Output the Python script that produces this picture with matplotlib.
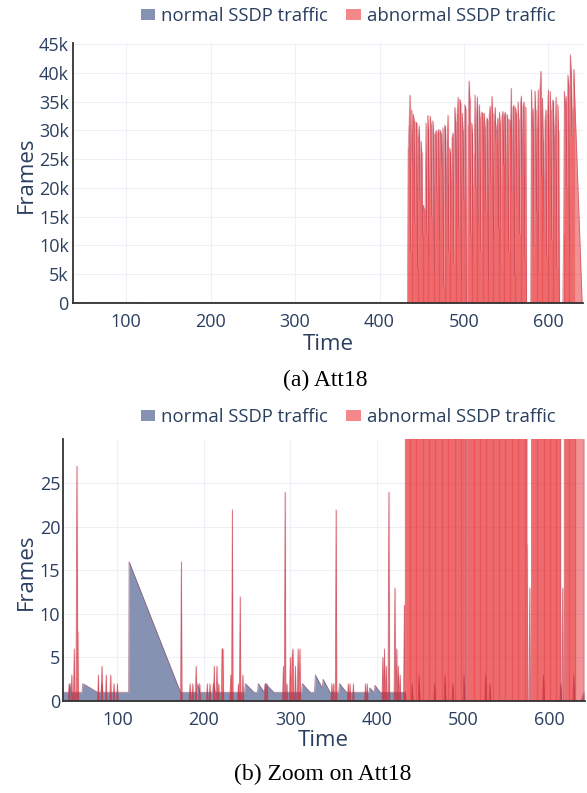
import matplotlib.pyplot as plt
from matplotlib.patches import Patch
from matplotlib.ticker import FuncFormatter

# normal SSDP traffic, knots of the area (time, frames)
normal_time = [37, 44, 45, 46, 59, 60, 77, 81, 82, 83,
               113, 113.5, 173, 192, 193, 195, 210, 211, 213, 247,
               248, 258, 262, 263, 270, 271, 281, 313, 314, 323,
               328, 329, 337, 338, 346, 356, 357, 365, 391, 392,
               397, 398, 404, 433, 434, 440, 441, 442, 448, 449,
               450, 466, 467, 468, 478, 479, 480, 487, 488, 489,
               500, 501, 502, 525, 526, 527, 530, 531, 532, 592,
               593, 594, 612, 613, 614, 627, 628, 629, 636, 640]
normal_frames = [1, 1, 2, 1, 1, 2, 1, 1, 2, 1,
                 1, 16, 1, 1, 2, 1, 1, 2, 1, 1,
                 2, 1, 1, 2, 1, 2, 1, 1, 2, 1,
                 1, 3, 1.5, 2.5, 1, 1, 2, 1, 1, 1.5,
                 1, 1.8, 1, 1, 0, 0, 2, 0, 0, 3,
                 0, 0, 2, 0, 0, 3, 0, 0, 2, 0,
                 0, 3, 0, 0, 3, 0, 0, 2, 0, 0,
                 3, 0, 0, 2, 0, 0, 3, 0, 0, 1]

# abnormal frames before the attack (one per second, 0 elsewhere)
first_second = 37
spike_time = [44, 47, 50, 53, 54, 78, 82, 87, 92, 96, 100,
              174, 184, 187, 191, 195, 204, 207, 212, 215, 217, 221, 222,
              231, 233, 240, 242, 245, 271, 273, 292, 294, 296,
              300, 302, 303, 306, 309, 311, 348, 350, 353, 367, 369, 373,
              387, 389, 407, 409, 411, 414, 421, 423, 425, 427, 432]
spike_frames = [2, 3, 6, 27, 8, 3, 4, 3, 3, 2, 2,
                16, 2, 2, 4, 2, 2, 2, 4, 4, 2, 6, 6,
                3, 22, 2, 12, 3, 2, 2, 4, 24, 2,
                5, 5, 6, 4, 6, 6, 2, 2, 22, 2, 2, 2,
                2, 2, 5, 6, 4, 24, 13, 6, 4, 3, 11]

# attack: one value per second from attack_start, then falls to 0 at attack_end
attack_start = 434
attack_end = 640
attack_frames = [
    27000, 31000, 36200, 9000, 33600, 24000, 32800, 31900, 14000, 31500,
    31300, 6000, 29000, 30800, 18000, 28200, 26300, 12000, 17000, 16000,
    16500,
    31300, 12000, 32600, 30000, 8000, 32500, 31200, 15000, 31700, 29500,
    5000, 29400, 30000, 19000, 29700, 30200, 11000, 30000, 29500, 24000,
    30500, 3000, 30900, 30600, 17000, 28400, 32600, 9000, 27000, 26000,
    15000, 28800, 29600, 7000, 34000, 31700, 21000, 32900, 35800, 13000,
    35400, 34800, 4000, 33000, 30000, 18000, 34500, 33900,
    0, 0,
    31000, 38600, 35600, 12000, 31300, 29600, 7000, 26000, 36200, 20000,
    33000, 35800, 14000, 34500, 32400, 9000, 33200, 33000, 26000, 33000,
    30700, 16000, 32200, 31900, 4000, 32900, 34200, 21000, 35900, 33100,
    11000, 31900, 34000, 28000, 30700, 32200, 13000, 33200, 31300, 6000,
    32500, 33300, 24000, 32700, 33200, 15000, 32800, 32000, 9000, 31900,
    30000, 37300, 19000, 34000, 34400, 5000, 34000, 33000, 17000, 35000,
    32000, 12000, 34700, 36000, 22000, 34200, 35000, 8000, 34100,
    18, 0, 0, 13, 0, 0,
    37100, 30000, 33800, 10000, 36900, 33600, 16000, 30600, 37100, 5000,
    37300, 40300, 22000, 35600, 28400, 12000, 31900, 33600, 8000, 32800,
    37100, 19000, 36800, 33600, 11000, 35300, 35000, 24000, 31000, 35800,
    6000, 34500, 29900,
    0, 0, 13, 0, 0,
    12000, 36800, 34000, 35900, 20000, 39600, 38000, 8000, 43200, 40500,
    29000, 34000, 40600,
]

BLUE = '#8592b1'
RED = '#e8262a'
TXT = '#2a3f5f'

per_second = {t: 0 for t in range(first_second, attack_start)}
for t, v in zip(spike_time, spike_frames):
    per_second[t] = v
abnormal_time = list(per_second) + [attack_start + i for i in range(len(attack_frames))] + [attack_end]
abnormal_frames = list(per_second.values()) + attack_frames + [0]

plt.rcParams['font.family'] = ['Open Sans', 'DejaVu Sans']

fig = plt.figure(figsize=(5.87, 7.93), dpi=100)
W, H = 587, 793


def box(l, t, r, b):
    return [l / W, 1 - b / H, (r - l) / W, (b - t) / H]


def draw(ax):
    ax.fill_between(normal_time, normal_frames, color=BLUE, lw=0, zorder=2)
    ax.plot(normal_time, normal_frames, color='#8a4868', lw=0.6, alpha=0.7, zorder=2.1)
    ax.fill_between(abnormal_time, abnormal_frames, color=RED, alpha=0.5, lw=0, zorder=3)
    ax.vlines(abnormal_time, 0, abnormal_frames, color=RED, alpha=0.3, lw=0.9, zorder=3)
    ax.plot(abnormal_time, abnormal_frames, color='#b8324a', alpha=0.55, lw=0.6, zorder=3)
    ax.set_xlim(37, 641)
    ax.set_xticks([100, 200, 300, 400, 500, 600])
    ax.grid(True, color='#edf0f6', lw=0.8, zorder=0)
    ax.set_axisbelow(True)
    for s in ['top', 'right']:
        ax.spines[s].set_visible(False)
    for s in ['left', 'bottom']:
        ax.spines[s].set_color('#333333')
        ax.spines[s].set_linewidth(1.3)
        ax.spines[s].set_zorder(5)
    ax.tick_params(length=0, labelsize=13, labelcolor=TXT)
    ax.tick_params(axis='x', pad=7)


# (a) full view
ax1 = fig.add_axes(box(73, 43, 583, 303))
draw(ax1)
ax1.set_ylim(0, 45200)
ax1.set_yticks(range(0, 45001, 5000))
ax1.yaxis.set_major_formatter(FuncFormatter(lambda v, p: '0' if v == 0 else f'{int(v / 1000)}k'))
ax1.tick_params(axis='y', pad=3)

# (b) zoom
ax2 = fig.add_axes(box(63, 439, 585, 701))
draw(ax2)
ax2.set_ylim(0, 30.1)
ax2.set_yticks([0, 5, 10, 15, 20, 25])
ax2.tick_params(axis='y', pad=2)

legend_handles = [Patch(facecolor=BLUE, edgecolor='none'),
                  Patch(facecolor=RED, alpha=0.55, edgecolor='none')]
legend_labels = ['normal SSDP traffic', 'abnormal SSDP traffic']
for cy in (16, 417):
    fig.legend(legend_handles, legend_labels, loc='center',
               bbox_to_anchor=(348 / W, 1 - cy / H), ncol=2, frameon=False,
               fontsize=13.3, labelcolor=TXT, handlelength=0.8, handleheight=0.6,
               handletextpad=0.3, columnspacing=1.0, borderpad=0)

fig.text(26 / W, 1 - 175 / H, 'Frames', rotation=90, ha='center', va='center', fontsize=16, color=TXT)
fig.text(26 / W, 1 - 572 / H, 'Frames', rotation=90, ha='center', va='center', fontsize=16, color=TXT)
fig.text(328 / W, 1 - 344 / H, 'Time', ha='center', va='center', fontsize=16, color=TXT)
fig.text(323 / W, 1 - 741 / H, 'Time', ha='center', va='center', fontsize=16, color=TXT)

fig.text(325 / W, 1 - 380 / H, '(a) Att18', ha='center', va='center', fontsize=17,
         family='Liberation Serif', color='black')
fig.text(323 / W, 1 - 774 / H, '(b) Zoom on Att18', ha='center', va='center', fontsize=17,
         family='Liberation Serif', color='black')

fig.savefig('out.png', dpi=100)
